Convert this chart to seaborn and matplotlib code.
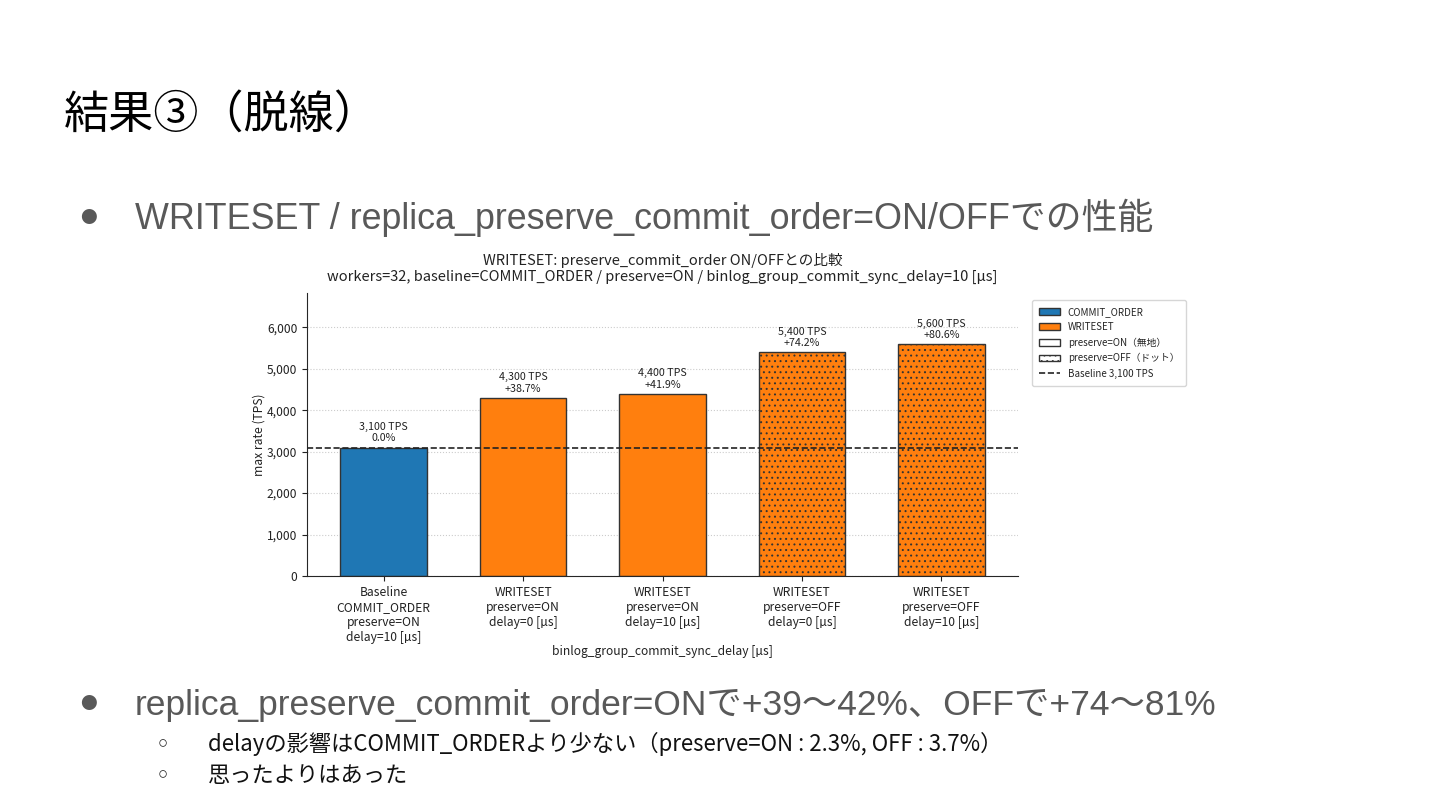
import numpy as np
import pandas as pd
import matplotlib
matplotlib.use("Agg")
import matplotlib.pyplot as plt
import seaborn as sns
from matplotlib.patches import Patch
from matplotlib.lines import Line2D
from matplotlib.ticker import FuncFormatter

##chart data
categories = [
    "Baseline\nCOMMIT_ORDER\npreserve=ON\ndelay=10 [µs]",
    "WRITESET\npreserve=ON\ndelay=0 [µs]",
    "WRITESET\npreserve=ON\ndelay=10 [µs]",
    "WRITESET\npreserve=OFF\ndelay=0 [µs]",
    "WRITESET\npreserve=OFF\ndelay=10 [µs]",
]
schemes = ["COMMIT_ORDER", "WRITESET", "WRITESET", "WRITESET", "WRITESET"]
preserve = ["ON", "ON", "ON", "OFF", "OFF"]
tps = [3100, 4300, 4400, 5400, 5600]
baseline = 3100

legend_labels = ["COMMIT_ORDER", "WRITESET", "preserve=ON（無地）", "preserve=OFF（ドット）", "Baseline 3,100 TPS"]

##slide text
slide_title = "結果③（脱線）"
bullet_1 = "WRITESET / replica_preserve_commit_order=ON/OFFでの性能"
bullet_2 = "replica_preserve_commit_order=ONで+39～42%、OFFで+74～81%"
sub_bullets = [
    "delayの影響はCOMMIT_ORDERより少ない（preserve=ON : 2.3%, OFF : 3.7%）",
    "思ったよりはあった",
]

df = pd.DataFrame({"label": categories, "scheme": schemes, "preserve": preserve, "tps": tps})

sns.set_style("ticks")
plt.rcParams["font.family"] = ["Noto Sans CJK JP", "DejaVu Sans"]
plt.rcParams["hatch.linewidth"] = 0.7

palette = {"COMMIT_ORDER": "#1f77b4", "WRITESET": "#ff7f0e"}
edge = "#333333"
txt = "#222222"

fig = plt.figure(figsize=(14.4, 8.1), dpi=100)
ax = fig.add_axes([307 / 1440, 1 - 576 / 810, 711 / 1440, 283 / 810])

sns.barplot(data=df, x="label", y="tps", hue="scheme", palette=palette, dodge=False, saturation=1,
            width=0.62, edgecolor=edge, linewidth=1.0, legend=False, ax=ax, zorder=2)

# dots for preserve=OFF bars
for p in ax.patches:
    idx = int(round(p.get_x() + p.get_width() / 2))
    if 0 <= idx < len(preserve) and preserve[idx] == "OFF":
        p.set_hatch("...")

ax.axhline(baseline, color=txt, linestyle="--", linewidth=1.2, zorder=3)

for i, v in enumerate(tps):
    pct = (v / baseline - 1) * 100
    sign = "+" if pct > 0 else ""
    ax.annotate(f"{v:,} TPS\n{sign}{pct:.1f}%", (i, v), xytext=(0, 3), textcoords="offset points",
                ha="center", va="bottom", fontsize=7.7, color=txt, linespacing=1.15)

ax.set_xlim(-0.55, 4.55)
ax.set_ylim(0, 6830)
ax.set_yticks(range(0, 7000, 1000))
ax.yaxis.set_major_formatter(FuncFormatter(lambda x, _: f"{int(x):,}"))
ax.yaxis.grid(True, linestyle=":", color="#cccccc", linewidth=0.8, zorder=0)
ax.set_axisbelow(True)
sns.despine(ax=ax)
ax.tick_params(labelsize=8.7, colors=txt, length=3.5)
for lab in ax.get_xticklabels():
    lab.set_linespacing(1.2)
ax.set_xlabel("binlog_group_commit_sync_delay [µs]", fontsize=8.7, color=txt, labelpad=1)
ax.set_ylabel("max rate (TPS)", fontsize=8.7, color=txt, labelpad=1)
ax.set_title("WRITESET: preserve_commit_order ON/OFFとの比較\n"
             "workers=32, baseline=COMMIT_ORDER / preserve=ON / binlog_group_commit_sync_delay=10 [µs]",
             fontsize=10.5, color=txt, pad=9, linespacing=1.1)

handles = [
    Patch(facecolor=palette["COMMIT_ORDER"], edgecolor=edge),
    Patch(facecolor=palette["WRITESET"], edgecolor=edge),
    Patch(facecolor="white", edgecolor=edge),
    Patch(facecolor="white", edgecolor=edge, hatch="..."),
    Line2D([0], [0], color=txt, linestyle="--", linewidth=1.2),
]
ax.legend(handles, legend_labels, loc="upper left", bbox_to_anchor=(1027 / 1440, 1 - 295 / 810),
          bbox_transform=fig.transFigure, fontsize=7, frameon=True, borderpad=0.7,
          labelspacing=0.55, handlelength=2.2)

# slide texts
fig.text(64 / 1440, 1 - 115 / 810, slide_title, fontsize=32.5, va="center", ha="left", color="#000000")
main_font = ["Liberation Sans", "Noto Sans CJK JP"]
for y0, s, fs in [(218, bullet_1, 25.8), (705, bullet_2, 25.5)]:
    fig.text(80 / 1440, 1 - y0 / 810, "●", fontsize=12, va="center", color="#595959")
    fig.text(135 / 1440, 1 - y0 / 810, s, fontsize=fs, va="center", color="#595959", family=main_font)
for k, s in enumerate(sub_bullets):
    y = 1 - (744 + 31 * k) / 810
    fig.text(158 / 1440, y, "○", fontsize=12, va="center", color="#222222", family=main_font)
    fig.text(208 / 1440, y, s, fontsize=16, va="center", color="#111111")

fig.savefig("out.png", dpi=100)
